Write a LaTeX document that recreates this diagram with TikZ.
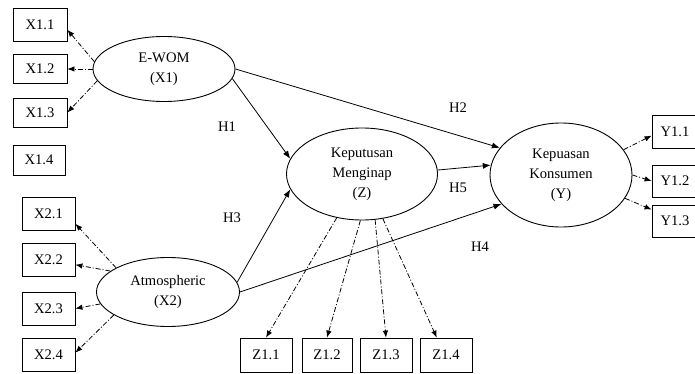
\documentclass[tikz,border=0pt]{standalone}
\usepackage{fontspec}
\setmainfont{Liberation Serif}
\usetikzlibrary{shapes.geometric,arrows.meta}
\begin{document}
\begin{tikzpicture}[x=1pt,y=-1pt,font=\fontsize{14.6}{20}\selectfont]
  \tikzset{
    construct/.style={draw=black,ellipse,line width=0.9pt,inner sep=0pt,align=center},
    indicator/.style={draw=black,line width=0.8pt,minimum width=53pt,
      minimum height=33pt,inner sep=0pt},
    hypo/.style={-{Latex[length=8pt,width=6pt]},line width=0.8pt},
    load/.style={-{Latex[length=7pt,width=5.5pt]},line width=0.8pt,
      dash pattern=on 5pt off 2pt on 1pt off 2pt}
  }
  \useasboundingbox (0,0) rectangle (695,374);

  \node[construct,minimum width=142pt,minimum height=65pt] (ewom) at (164,69)
    {E-WOM\\(X1)};
  \node[construct,minimum width=143pt,minimum height=69pt] (atmo) at (168,292)
    {Atmospheric\\(X2)};
  \node[construct,minimum width=151pt,minimum height=92pt] (kep) at (362,174)
    {Keputusan\\Menginap\\(Z)};
  \node[construct,minimum width=142pt,minimum height=104pt] (kpu) at (561,175)
    {Kepuasan\\Konsumen\\(Y)};

  \node[indicator,minimum width=54pt] (x11) at (40,24.5) {X1.1};
  \node[indicator,minimum width=54pt,minimum height=29pt] (x12) at (40,69) {X1.2};
  \node[indicator,minimum width=54pt,minimum height=29pt] (x13) at (40,112.5) {X1.3};
  \node[indicator,minimum width=52pt,minimum height=30pt] (x14) at (39,160) {X1.4};
  \node[indicator] (x21) at (48.5,214) {X2.1};
  \node[indicator] (x22) at (48.5,260) {X2.2};
  \node[indicator] (x23) at (48.5,308.5) {X2.3};
  \node[indicator] (x24) at (48.5,355) {X2.4};
  \node[indicator,minimum width=52pt,minimum height=34pt] (z11) at (266,355) {Z1.1};
  \node[indicator,minimum width=50pt,minimum height=34pt] (z12) at (327,355) {Z1.2};
  \node[indicator,minimum width=52pt,minimum height=34pt] (z13) at (386,355) {Z1.3};
  \node[indicator,minimum width=52pt,minimum height=34pt] (z14) at (446,355) {Z1.4};
  \node[indicator,minimum width=46pt] (y11) at (675,131.5) {Y1.1};
  \node[indicator,minimum width=46pt,minimum height=32pt] (y12) at (675,181) {Y1.2};
  \node[indicator,minimum width=46pt,minimum height=32pt] (y13) at (675,221) {Y1.3};

  \draw[load] (ewom.174) -- (x11.-11);
  \draw[load] (ewom.180) -- (x12.east);
  \draw[load] (ewom.190) -- (x13.east);
  \draw[load] (atmo.155) -- (x21.-20);
  \draw[load] (atmo.160) -- (x22.-10);
  \draw[load] (atmo.190) -- (x23.east);
  \draw[load] (atmo.203) -- (x24.5);
  \draw[load] (kep.240) -- (z11.north);
  \draw[load] (kep.268) -- (z12.north);
  \draw[load] (kep.286) -- (z13.north);
  \draw[load] (kep.295) -- (z14.118);
  \draw[load] (kpu.22) -- (y11.190);
  \draw[load] (kpu.0) -- (y12.west);
  \draw[load] (kpu.-20) -- (y13.154);

  \draw[hypo] (ewom.-8) -- (kep.168);
  \draw[hypo] (ewom.east) -- (kpu.156);
  \draw[hypo] (atmo.8) -- (kep.192);
  \draw[hypo] (atmo.east) -- (kpu.206);
  \draw[hypo] (kep.3) -- (kpu.172);

  \node (h1) at (227,127) {H1};
  \node (h2) at (458,108) {H2};
  \node (h3) at (232,218) {H3};
  \node (h4) at (480,247) {H4};
  \node (h5) at (458,188) {H5};
\end{tikzpicture}
\end{document}
